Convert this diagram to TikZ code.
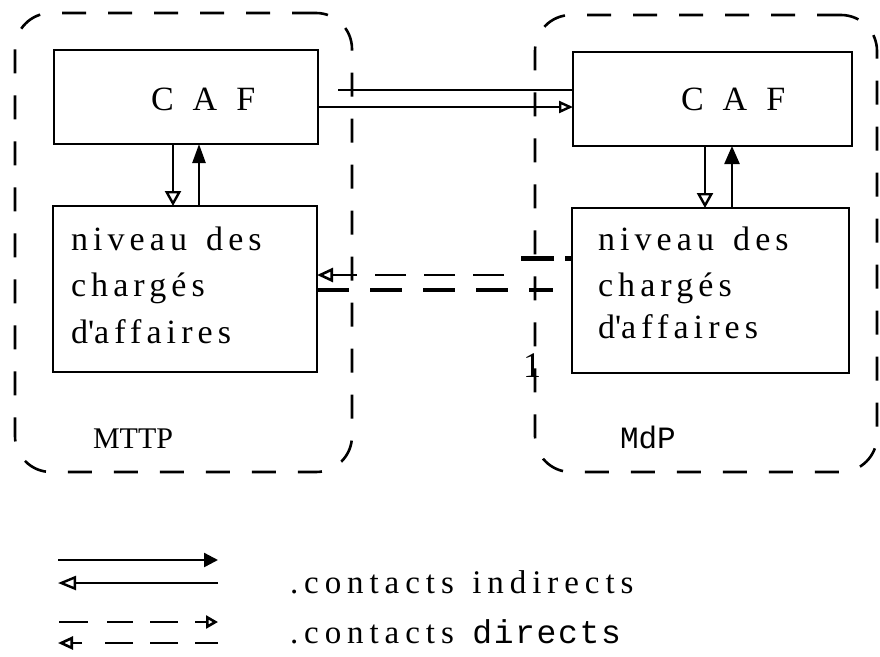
\documentclass[tikz,border=0pt]{standalone}
\usepackage{fontspec}
\setmainfont{Liberation Serif}
\newfontfamily\spacedserif[LetterSpace=15,WordSpace=1.4,Ligatures=NoCommon]{Liberation Serif}
\newfontfamily\legendserif[LetterSpace=18,WordSpace=1.3,Ligatures=NoCommon]{Liberation Serif}
\newfontfamily\typewriter{Liberation Mono}
\newfontfamily\spacedtype[LetterSpace=5]{Liberation Mono}
\usetikzlibrary{arrows.meta}
\tikzset{
  box/.style={draw, line width=2.5pt, rectangle},
  group/.style={draw, line width=2.6pt, dash pattern=on 24pt off 22pt, rounded corners=36pt},
  boxtext/.style={anchor=base west, font=\spacedserif\fontsize{34}{38}\selectfont},
  legendtext/.style={anchor=base west, font=\legendserif\fontsize{33}{38}\selectfont},
  link/.style={line width=2.4pt},
  dashlink/.style={line width=2.6pt},
  heavydash/.style={line width=4.5pt, dash pattern=on 32pt off 21pt},
}
\begin{document}
\begin{tikzpicture}[x=1pt, y=-1pt, every node/.style={inner sep=0pt, outer sep=0pt}]
\useasboundingbox (0,0) rectangle (880,656);

% the two organisations
\node[group, minimum width=337pt, minimum height=459pt] (mttp) at (183.5,242.5) {};
\node[group, minimum width=342pt, minimum height=457pt] (mdp) at (706,243.5) {};

% boxes of each organisation
\node[box, minimum width=264pt, minimum height=94pt]  (lc) at (186,97) {};
\node[box, minimum width=264pt, minimum height=166pt] (ln) at (185,289) {};
\node[box, minimum width=279pt, minimum height=94pt]  (rc) at (712.5,99) {};
\node[box, minimum width=277pt, minimum height=165pt] (rn) at (710.5,290.5) {};

% box texts
\node[boxtext] (lcT) at (151,110) {C A F};
\node[boxtext] (lnA) at (71,250) {niveau des};
\node[boxtext] (lnB) at (71,296) {chargés};
\node[boxtext] (lnC) at (71,343) {d\textquotesingle affaires};
\node[boxtext] (rcT) at (681,110) {C A F};
\node[boxtext] (rnA) at (598,250) {niveau des};
\node[boxtext] (rnB) at (598,296) {chargés};
\node[boxtext] (rnC) at (598,338) {d\textquotesingle affaires};

% organisation labels
\node[anchor=base west, font=\fontsize{30}{34}\selectfont] (mttpT) at (93,448) {MTTP};
\node[anchor=base west, font=\typewriter\fontsize{31}{36}\selectfont] (mdpT) at (620,448) {MdP};
\node[anchor=base, font=\fontsize{36}{40}\selectfont] (one) at (532,377) {1};

% links inside each organisation
\draw[link, -{Triangle[open,length=15pt,width=16pt]}] (lc.south -| 173,0) -- (ln.north -| 173,0);
\draw[link, -{Triangle[length=19pt,width=13pt]}] (ln.north -| 199,0) -- (lc.south -| 199,0);
\draw[link, -{Triangle[open,length=15pt,width=16pt]}] (rc.south -| 705,0) -- (rn.north -| 705,0);
\draw[link, -{Triangle[length=18pt,width=15pt]}] (rn.north -| 732,0) -- (rc.south -| 732,0);

% indirect contacts between the CAF
\coordinate (tStart) at (338,90);
\draw[link] (tStart) -- (rc.west |- tStart);
\draw[link, -{Triangle[open,length=14pt,width=12pt]}] (lc.east |- 0,107) -- (rc.west |- 0,107);

% direct contacts between the two levels
\coordinate (dStart) at (504,275);
\draw[dashlink, dash pattern=on 31pt off 18pt, -{Triangle[open,length=16pt,width=14pt]}] (dStart) -- (ln.east |- dStart);
\coordinate (jEnd) at (521,258);
\draw[line width=5pt, dash pattern=on 7pt off 11pt on 40pt off 40pt] (rn.west |- jEnd) -- (jEnd);
\coordinate (bEnd) at (553,290);
\draw[heavydash] (ln.east |- bEnd) -- (bEnd);

% legend
\coordinate (a1) at (58,560);  \coordinate (a2) at (218,560);
\coordinate (b1) at (218,583); \coordinate (b2) at (58,583);
\coordinate (c1) at (59,622);  \coordinate (c2) at (218,622);
\coordinate (d1) at (218,643); \coordinate (d2) at (58,643);
\draw[link, -{Triangle[length=14pt,width=14pt]}] (a1) -- (a2);
\draw[link, -{Triangle[open,length=18pt,width=14pt]}] (b1) -- (b2);
\draw[dashlink, dash pattern=on 29pt off 19pt on 26pt off 17pt on 28pt off 17pt on 40pt off 10pt,
      -{Triangle[open,length=12pt,width=13pt]}] (c1) -- (c2);
\draw[dashlink, dash pattern=on 23pt off 17pt on 28pt off 17pt on 28pt off 23pt on 40pt off 10pt,
      -{Triangle[open,length=15pt,width=13pt]}] (d1) -- (d2);
\node[legendtext] (lgA) at (290,593) {.contacts indirects};
\node[legendtext] (lgB) at (290,643) {.contacts {\spacedtype directs}};
\end{tikzpicture}
\end{document}
